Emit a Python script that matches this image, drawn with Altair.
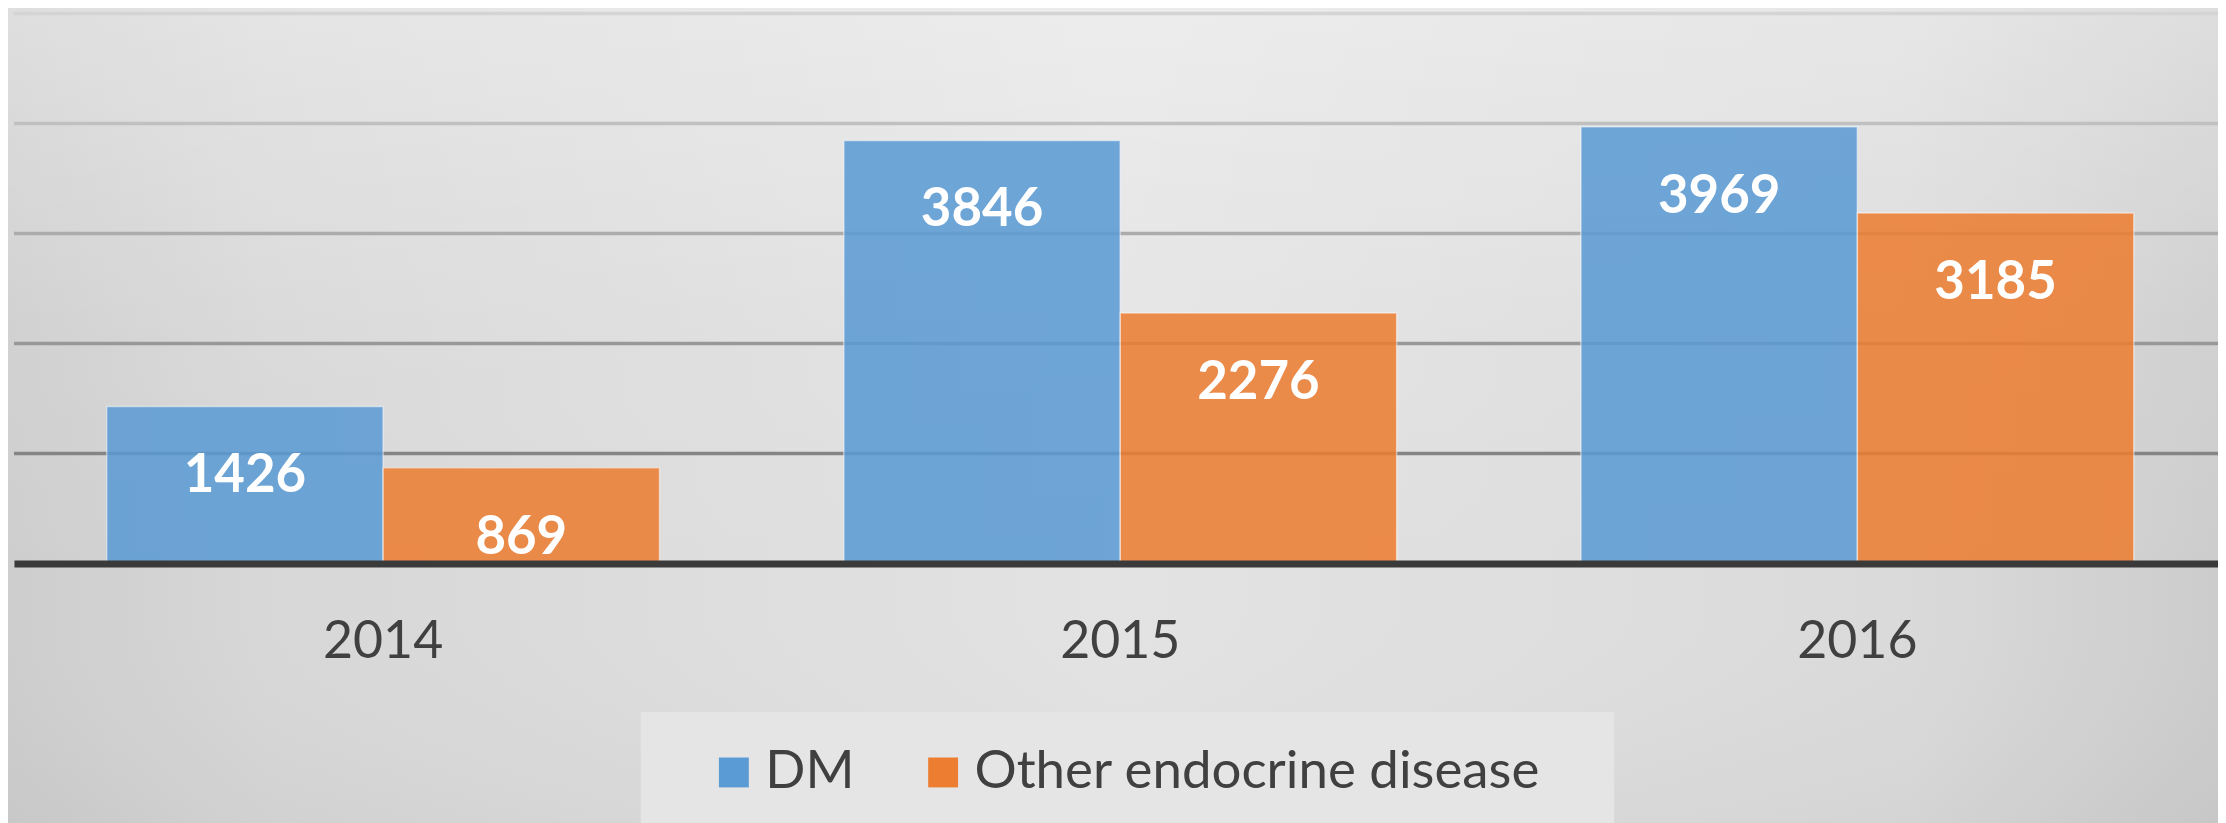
import altair as alt
import pandas as pd

# ---- data ----
years = ["2014", "2015", "2016"]
series = ["DM", "Other endocrine disease"]
dm_values = [1426, 3846, 3969]
other_values = [869, 2276, 3185]
grid_values = [1000, 2000, 3000, 4000, 5000]

rows = []
for yr, v in zip(years, dm_values):
    rows.append({"year": yr, "series": series[0], "value": v})
for yr, v in zip(years, other_values):
    rows.append({"year": yr, "series": series[1], "value": v})
df = pd.DataFrame(rows)
grid_df = pd.DataFrame({"g": grid_values})

FONT = "Lato"
W, H = 2212, 552

y_scale = alt.Scale(domain=[0, 5000], nice=False, zero=True)

# ---- background (decorative gradient) ----
bg = alt.Chart(alt.Data(values=[{"k": 1}])).mark_rect(
    fill=alt.LinearGradient(
        gradient="linear", x1=0, x2=1, y1=0, y2=0,
        stops=[
            alt.GradientStop(color="#cdcdcd", offset=0),
            alt.GradientStop(color="#d7d7d7", offset=0.12),
            alt.GradientStop(color="#e3e3e3", offset=0.5),
            alt.GradientStop(color="#dadada", offset=0.85),
            alt.GradientStop(color="#cbcbcb", offset=1),
        ],
    ),
    strokeWidth=0,
).encode(x=alt.value(-20), x2=alt.value(2240), y=alt.value(-20), y2=alt.value(830))

bg2 = alt.Chart(alt.Data(values=[{"k": 1}])).mark_rect(
    fill=alt.LinearGradient(
        gradient="linear", x1=0, x2=0, y1=0, y2=1,
        stops=[
            alt.GradientStop(color="rgba(255,255,255,0.35)", offset=0),
            alt.GradientStop(color="rgba(255,255,255,0.08)", offset=0.4),
            alt.GradientStop(color="rgba(255,255,255,0)", offset=0.7),
            alt.GradientStop(color="rgba(0,0,0,0.03)", offset=1),
        ],
    ),
    strokeWidth=0,
).encode(x=alt.value(-20), x2=alt.value(2240), y=alt.value(-20), y2=alt.value(830))

# ---- gridlines ----
grid = alt.Chart(grid_df).mark_rule(strokeWidth=3.5).encode(
    y=alt.Y("g:Q", scale=y_scale, axis=None),
    stroke=alt.Stroke(
        "g:Q",
        scale=alt.Scale(domain=[1000, 5000], range=["#858585", "#d4d4d4"]),
        legend=None,
    ),
)

x_enc = alt.X(
    "year:N",
    sort=years,
    scale=alt.Scale(paddingInner=0.25, paddingOuter=0.12, align=0.524),
    axis=alt.Axis(
        title=None,
        labelFont=FONT,
        labelFontSize=52,
        labelColor="#404040",
        labelAngle=0,
        labelPadding=94,
        labelBaseline="alphabetic",
        ticks=False,
        tickSize=0,
        grid=False,
        domainColor="#3a3a3a",
        domainWidth=7,
        zindex=1,
    ),
)
xoff = alt.XOffset("series:N", sort=series, scale=alt.Scale(paddingInner=0, paddingOuter=0))

bars = alt.Chart(df).mark_bar(
    opacity=0.86, stroke="#ffffff", strokeWidth=1.5, strokeOpacity=0.55
).encode(
    x=x_enc,
    xOffset=xoff,
    y=alt.Y("value:Q", scale=y_scale, axis=None),
    color=alt.Color(
        "series:N",
        sort=series,
        scale=alt.Scale(domain=series, range=["#5b9bd5", "#ed7d31"]),
        legend=alt.Legend(
            title="\u00a0",
            titleOrient="left",
            titleFontSize=10,
            titlePadding=33,
            orient="none",
            legendX=629,
            legendY=701,
            direction="horizontal",
            fillColor="#e5e5e5",
            padding=34,
            symbolType="square",
            symbolSize=900,
            symbolStrokeWidth=0,
            symbolOpacity=1,
            labelFont=FONT,
            labelFontSize=53,
            labelColor="#404040",
            labelLimit=1000,
            labelOffset=5,
            columnPadding=62,
            labelExpr="datum.label == 'DM' ? datum.label : datum.label + '\u2800'",
        ),
    ),
)

labels = alt.Chart(df).mark_text(
    font=FONT, fontWeight="bold", fontSize=53, color="#ffffff", baseline="middle", dy=70
).encode(
    x=alt.X("year:N", sort=years),
    xOffset=xoff,
    y=alt.Y("value:Q", scale=y_scale, axis=None),
    text=alt.Text("value:Q", format="d"),
)

chart = (
    alt.layer(bg, bg2, grid, bars, labels)
    .properties(
        width=W,
        height=H,
        padding={"left": 6, "top": 4, "right": 0, "bottom": 259},
        autosize=alt.AutoSizeParams(type="none"),
    )
    .configure(background="#d8d8d8")
    .configure_view(strokeWidth=0)
)

chart.save("out.html", embed_options={"renderer": "svg", "actions": False})
